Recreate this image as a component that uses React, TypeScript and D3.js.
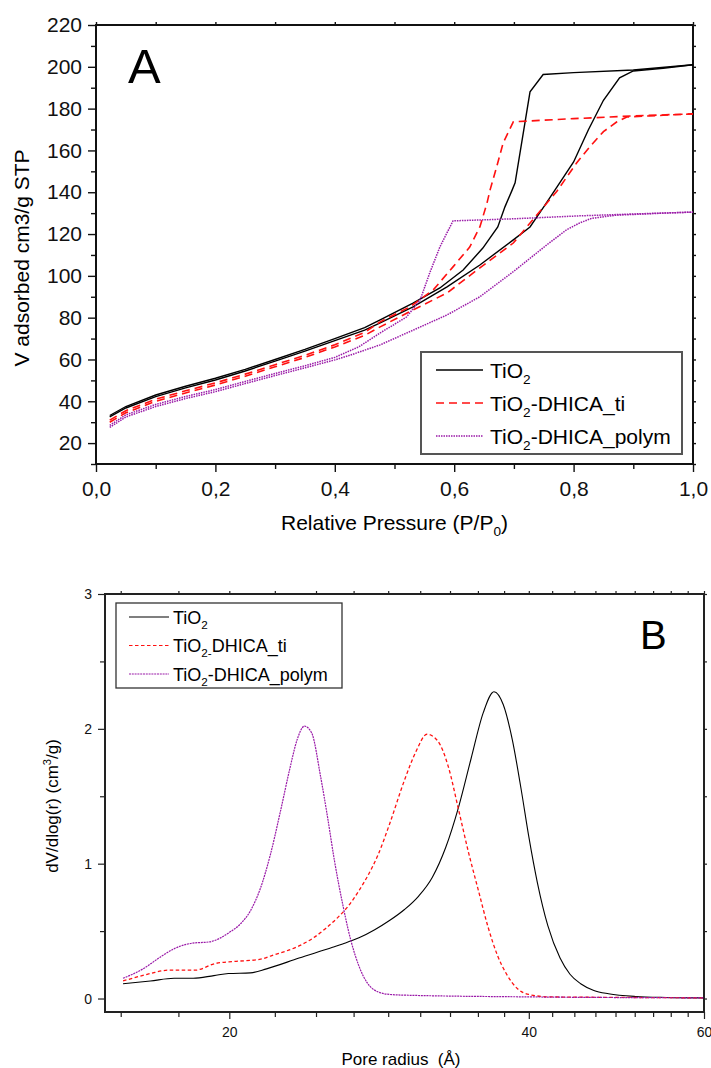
import React, { useEffect, useRef } from "react";
import * as d3 from "d3";

// ---------- panel A : N2 isotherms (P/P0 vs V adsorbed) ----------
const pTiO2Ads = [0.023, 0.05, 0.1, 0.15, 0.2, 0.25, 0.3, 0.35, 0.4, 0.45, 0.476, 0.531, 0.588, 0.643, 0.699, 0.727, 0.75, 0.772, 0.8, 0.825, 0.85, 0.877, 0.9, 0.95, 1.0];
const vTiO2Ads = [32.5, 36.8, 42.2, 46.4, 50.2, 54.5, 59.2, 64, 69, 74, 77.5, 85.2, 94.7, 105.2, 117.2, 123.4, 133, 142.5, 154.5, 170, 184, 194.7, 198, 199.3, 201];
const pTiO2Des = [0.023, 0.05, 0.1, 0.15, 0.2, 0.25, 0.3, 0.35, 0.4, 0.45, 0.476, 0.531, 0.576, 0.615, 0.648, 0.673, 0.685, 0.697, 0.702, 0.727, 0.749, 0.8, 0.9, 1.0];
const vTiO2Des = [33.2, 37.5, 43, 47.2, 51, 55.3, 60, 64.8, 70, 75.2, 78.9, 87, 94.2, 102.8, 113.3, 123.4, 133, 141, 144.5, 188, 196.3, 197.2, 198.5, 201];

const pTiTiAds = [0.023, 0.05, 0.1, 0.15, 0.2, 0.25, 0.3, 0.35, 0.4, 0.45, 0.476, 0.531, 0.588, 0.643, 0.699, 0.738, 0.772, 0.805, 0.827, 0.85, 0.872, 0.889, 0.95, 1.0];
const vTiTiAds = [30, 34.5, 40, 44, 47.8, 52, 56.5, 61, 66, 71.5, 75.6, 83.7, 91.8, 103.8, 115.7, 129, 140.5, 154, 161.7, 169, 173.6, 176, 176.8, 177.5];
const pTiTiDes = [0.023, 0.05, 0.1, 0.15, 0.2, 0.25, 0.3, 0.35, 0.4, 0.45, 0.476, 0.526, 0.565, 0.598, 0.626, 0.643, 0.655, 0.66, 0.671, 0.682, 0.699, 0.8, 0.9, 1.0];
const vTiTiDes = [31, 35.5, 41, 45, 48.8, 53, 57.5, 62, 67, 73, 78, 85.2, 93.3, 104.3, 113.8, 123.4, 134.9, 141, 152, 163.6, 173.7, 175.2, 176.5, 177.5];

const pPolyAds = [0.023, 0.05, 0.1, 0.15, 0.2, 0.25, 0.3, 0.35, 0.4, 0.425, 0.476, 0.531, 0.588, 0.643, 0.699, 0.755, 0.788, 0.81, 0.83, 0.87, 0.95, 1.0];
const vPolyAds = [27.5, 32.5, 37.5, 41.3, 44.6, 48.5, 52.3, 56, 59.8, 62, 67, 74, 81.3, 90, 102, 114.8, 122, 125.3, 127.5, 129, 130, 130.5];
const pPolyDes = [0.023, 0.05, 0.1, 0.15, 0.2, 0.25, 0.3, 0.35, 0.4, 0.44, 0.476, 0.52, 0.543, 0.559, 0.576, 0.598, 0.7, 0.81, 0.9, 1.0];
const vPolyDes = [28.5, 33.5, 38.5, 42.3, 45.6, 49.5, 53.3, 57, 61, 66, 72.7, 80.3, 88.5, 101.4, 113.8, 126.3, 127.3, 128.7, 129.6, 130.5];

const xTicksA = [0, 0.2, 0.4, 0.6, 0.8, 1.0];
const yTicksA = [20, 40, 60, 80, 100, 120, 140, 160, 180, 200, 220];

// ---------- panel B : pore size distribution ----------
const rTiO2 = [15.64, 16.66, 17.6, 18.4, 19.3, 19.96, 21.0, 21.8, 23.5, 25.4, 26, 27, 28, 29, 30, 31, 32, 33, 34, 35, 36, 36.9, 37.7, 38.5, 39.3, 40.0, 40.8, 41.8, 43.0, 44.0, 45.1, 46.5, 48.1, 51.2, 55, 60];
const dTiO2 = [0.11, 0.13, 0.15, 0.15, 0.17, 0.185, 0.19, 0.22, 0.3, 0.38, 0.405, 0.45, 0.51, 0.58, 0.66, 0.76, 0.9, 1.12, 1.42, 1.78, 2.12, 2.275, 2.18, 1.92, 1.55, 1.2, 0.86, 0.54, 0.3, 0.18, 0.11, 0.06, 0.035, 0.015, 0.008, 0.005];
const rTiTi = [15.64, 16.66, 17.36, 18.47, 19.37, 20.24, 21.45, 22.1, 23.5, 24.3, 25, 25.7, 26.3, 27, 27.6, 28.2, 29, 30, 30.8, 31.6, 32.4, 33.2, 34, 34.8, 35.6, 36.4, 37.2, 38, 39, 40, 42, 50, 60];
const dTiTi = [0.13, 0.185, 0.21, 0.21, 0.26, 0.275, 0.29, 0.32, 0.39, 0.45, 0.52, 0.6, 0.68, 0.8, 0.92, 1.06, 1.3, 1.62, 1.83, 1.96, 1.91, 1.72, 1.4, 1.08, 0.8, 0.53, 0.32, 0.18, 0.07, 0.03, 0.012, 0.008, 0.005];
const rPoly = [15.64, 16.38, 17.07, 17.61, 18.34, 19.1, 19.6, 20.0, 20.5, 21, 21.5, 22, 22.5, 23, 23.4, 23.8, 24.2, 24.7, 25.1, 25.5, 26.0, 26.5, 27, 27.5, 28.2, 29, 30, 40, 60];
const dPoly = [0.15, 0.22, 0.31, 0.37, 0.41, 0.42, 0.45, 0.49, 0.55, 0.65, 0.82, 1.07, 1.38, 1.7, 1.92, 2.02, 1.97, 1.65, 1.35, 1.03, 0.7, 0.43, 0.24, 0.12, 0.05, 0.03, 0.025, 0.012, 0.005];

const xTicksB = [20, 40, 60];
const yTicksB = [0, 1, 2, 3];

const FONT = "'Liberation Sans', Arial, sans-serif";
const PURPLE = "#9a1aa8";

const zip = (xs, ys) => xs.map((x, i) => [x, ys[i]]);

// text with sub/superscript parts: [str, "n" | "sub" | "sup"]
function richText(g, x, y, parts, size, anchor = "start") {
  const t = g
    .append("text")
    .attr("x", x)
    .attr("y", y)
    .attr("font-family", FONT)
    .attr("font-size", size)
    .attr("text-anchor", anchor)
    .style("white-space", "pre");
  let shift = 0;
  parts.forEach(([s, kind]) => {
    const target = kind === "sub" ? 0.3 * size : kind === "sup" ? -0.4 * size : 0;
    t.append("tspan")
      .attr("dy", target - shift)
      .attr("font-size", kind === "n" ? size : size * 0.65)
      .text(s);
    shift = target;
  });
  return t;
}

const App = () => {
  const ref = useRef(null);

  useEffect(() => {
    const svg = d3.select(ref.current);
    svg.selectAll("*").remove();

    // ================= Panel A =================
    const xA = d3.scaleLinear().domain([0, 1]).range([96, 693]);
    const yA = d3.scaleLinear().domain([10, 220]).range([464, 25]);
    const gA = svg.append("g");
    const comma = (d) => d3.format(".1f")(d).replace(".", ",");

    const styleAxis = (g, size) => {
      g.select(".domain").remove();
      g.selectAll("line").attr("stroke", "#111").attr("stroke-width", 1.4);
      g.selectAll("text").attr("font-family", FONT).attr("font-size", size).attr("fill", "#111");
    };

    const minorA = d3.range(10, 221, 10).filter((d) => !yTicksA.includes(d));
    gA.append("g").attr("transform", "translate(96,0)")
      .call(d3.axisLeft(yA).tickValues(yTicksA).tickSize(8).tickPadding(6))
      .call((g) => styleAxis(g, 21));
    gA.append("g").attr("transform", "translate(96,0)")
      .call(d3.axisLeft(yA).tickValues(minorA).tickSize(5).tickFormat(() => ""))
      .call((g) => styleAxis(g, 21));
    gA.append("g").attr("transform", "translate(0,464)")
      .call(d3.axisBottom(xA).tickValues(xTicksA).tickSize(8).tickPadding(9).tickFormat(comma))
      .call((g) => styleAxis(g, 21));
    gA.append("g").attr("transform", "translate(0,464)")
      .call(d3.axisBottom(xA).tickValues([0.1, 0.3, 0.5, 0.7, 0.9]).tickSize(5).tickFormat(() => ""))
      .call((g) => styleAxis(g, 21));
    gA.append("g").attr("transform", "translate(0,25)")
      .call(d3.axisTop(xA).tickValues(d3.range(0, 1.01, 0.1)).tickSize(3).tickFormat(() => ""))
      .call((g) => styleAxis(g, 21));
    gA.append("g").attr("transform", "translate(693,0)")
      .call(d3.axisRight(yA).tickValues(d3.range(10, 221, 10)).tickSize(3).tickFormat(() => ""))
      .call((g) => styleAxis(g, 21));

    gA.append("rect")
      .attr("x", 96).attr("y", 25).attr("width", 597).attr("height", 439)
      .attr("fill", "none").attr("stroke", "#111").attr("stroke-width", 2);

    const lineA = d3.line().x((d) => xA(d[0])).y((d) => yA(d[1]));
    const seriesA = [
      { p: pTiO2Ads, v: vTiO2Ads, color: "#000", dash: null, w: 1.4 },
      { p: pTiO2Des, v: vTiO2Des, color: "#000", dash: null, w: 1.4 },
      { p: pTiTiAds, v: vTiTiAds, color: "#ff1010", dash: "8,5", w: 1.6 },
      { p: pTiTiDes, v: vTiTiDes, color: "#ff1010", dash: "8,5", w: 1.6 },
      { p: pPolyAds, v: vPolyAds, color: PURPLE, dash: "1.5,1", w: 1.5 },
      { p: pPolyDes, v: vPolyDes, color: PURPLE, dash: "1.5,1", w: 1.5 },
    ];
    seriesA.forEach((s) => {
      gA.append("path")
        .datum(zip(s.p, s.v))
        .attr("fill", "none")
        .attr("stroke", s.color)
        .attr("stroke-width", s.w)
        .attr("stroke-dasharray", s.dash)
        .attr("d", lineA);
    });

    // titles
    richText(gA, 394.5, 530, [["Relative Pressure (P/P", "n"], ["0", "sub"], [")", "n"]], 21, "middle");
    gA.append("text")
      .attr("transform", "translate(29,258) rotate(-90)")
      .attr("text-anchor", "middle")
      .attr("font-family", FONT).attr("font-size", 21)
      .text("V adsorbed cm3/g STP");
    gA.append("text").attr("x", 128).attr("y", 83)
      .attr("font-family", FONT).attr("font-size", 49).text("A");

    // legend A
    gA.append("rect")
      .attr("x", 421).attr("y", 352).attr("width", 261).attr("height", 102)
      .attr("fill", "white").attr("stroke", "#555").attr("stroke-width", 2);
    const legA = [
      { parts: [["TiO", "n"], ["2", "sub"]], color: "#000", dash: null, w: 1.4 },
      { parts: [["TiO", "n"], ["2", "sub"], ["-DHICA_ti", "n"]], color: "#ff1010", dash: "8,5", w: 1.6 },
      { parts: [["TiO", "n"], ["2", "sub"], ["-DHICA_polym", "n"]], color: PURPLE, dash: "1.5,1", w: 1.5 },
    ];
    legA.forEach((l, i) => {
      const y = 370 + i * 33;
      gA.append("line").attr("x1", 436).attr("x2", 483).attr("y1", y).attr("y2", y)
        .attr("stroke", l.color).attr("stroke-width", l.w).attr("stroke-dasharray", l.dash);
      richText(gA, 490, y + 7.5, l.parts, 21);
    });

    // ================= Panel B =================
    const xB = d3.scaleLog().domain([15, 60]).range([105, 704]);
    const yB = d3.scaleLinear().domain([-0.1, 3]).range([1012, 594]);
    const gB = svg.append("g");

    const minorB = [];
    [0, 20, 40].forEach((a) => {
      for (let k = 1; k < 9; k++) {
        const v = a === 0 ? 20 - (k * 20) / 9 : a + (k * 20) / 9;
        if (v >= 15) minorB.push(v);
      }
    });
    const styleB = (g) => {
      g.select(".domain").remove();
      g.selectAll("line").attr("stroke", "#222").attr("stroke-width", 1.2);
      g.selectAll("text").attr("font-family", FONT).attr("font-size", 14).attr("fill", "#111");
    };

    gB.append("g").attr("transform", "translate(105,0)")
      .call(d3.axisLeft(yB).tickValues(yTicksB).tickSize(7).tickPadding(6).tickFormat(d3.format("d")))
      .call(styleB);
    gB.append("g").attr("transform", "translate(105,0)")
      .call(d3.axisLeft(yB).tickValues([0.5, 1.5, 2.5]).tickSize(5).tickFormat(() => ""))
      .call(styleB);
    gB.append("g").attr("transform", "translate(704,0)")
      .call(d3.axisRight(yB).tickValues([0, 0.5, 1, 1.5, 2, 2.5, 3]).tickSize(3).tickFormat(() => ""))
      .call(styleB);
    gB.append("g").attr("transform", "translate(0,1012)")
      .call(d3.axisBottom(xB).tickValues(xTicksB).tickSize(7).tickPadding(8).tickFormat(d3.format("d")))
      .call(styleB);
    gB.append("g").attr("transform", "translate(0,1012)")
      .call(d3.axisBottom(xB).tickValues(minorB).tickSize(5).tickFormat(() => ""))
      .call(styleB);
    gB.append("g").attr("transform", "translate(0,594)")
      .call(d3.axisTop(xB).tickValues(minorB.concat(xTicksB)).tickSize(3).tickFormat(() => ""))
      .call(styleB);

    gB.append("rect")
      .attr("x", 105).attr("y", 594).attr("width", 599).attr("height", 418)
      .attr("fill", "none").attr("stroke", "#222").attr("stroke-width", 2);

    const lineB = d3.line().x((d) => xB(d[0])).y((d) => yB(d[1])).curve(d3.curveMonotoneX);
    const seriesB = [
      { r: rTiO2, d: dTiO2, color: "#000", dash: null, w: 1.1 },
      { r: rTiTi, d: dTiTi, color: "#ff1010", dash: "3.5,2.5", w: 1.3 },
      { r: rPoly, d: dPoly, color: PURPLE, dash: "2,0.8", w: 1.2 },
    ];
    seriesB.forEach((s) => {
      gB.append("path")
        .datum(zip(s.r, s.d))
        .attr("fill", "none")
        .attr("stroke", s.color)
        .attr("stroke-width", s.w)
        .attr("stroke-dasharray", s.dash)
        .attr("d", lineB);
    });

    richText(gB, 401, 1065, [["Pore radius  (Å)", "n"]], 17, "middle");
    const yt = richText(gB, 0, 0, [["dV/dlog(r) (cm", "n"], ["3", "sup"], ["/g)", "n"]], 17, "middle");
    yt.attr("transform", "translate(58,806) rotate(-90)");
    gB.append("text").attr("x", 640).attr("y", 649)
      .attr("font-family", FONT).attr("font-size", 40).text("B");

    // legend B
    gB.append("rect")
      .attr("x", 116).attr("y", 603).attr("width", 226).attr("height", 85)
      .attr("fill", "white").attr("stroke", "#333").attr("stroke-width", 1.3);
    const legB = [
      { parts: [["TiO", "n"], ["2", "sub"]], color: "#000", dash: null, w: 1.1 },
      { parts: [["TiO", "n"], ["2-", "sub"], ["DHICA_ti", "n"]], color: "#ff1010", dash: "3.5,2.5", w: 1.2 },
      { parts: [["TiO", "n"], ["2", "sub"], ["-DHICA_polym", "n"]], color: PURPLE, dash: "2,0.8", w: 1.2 },
    ];
    legB.forEach((l, i) => {
      const y = 617 + i * 28.5;
      gB.append("line").attr("x1", 129).attr("x2", 169).attr("y1", y).attr("y2", y)
        .attr("stroke", l.color).attr("stroke-width", l.w).attr("stroke-dasharray", l.dash);
      richText(gB, 173, y + 6.5, l.parts, 18);
    });
  }, []);

  return (
    <svg
      ref={ref}
      width={711}
      height={1068}
      style={{ position: "absolute", left: 0, top: 0, background: "white" }}
    ></svg>
  );
};

export default App;
